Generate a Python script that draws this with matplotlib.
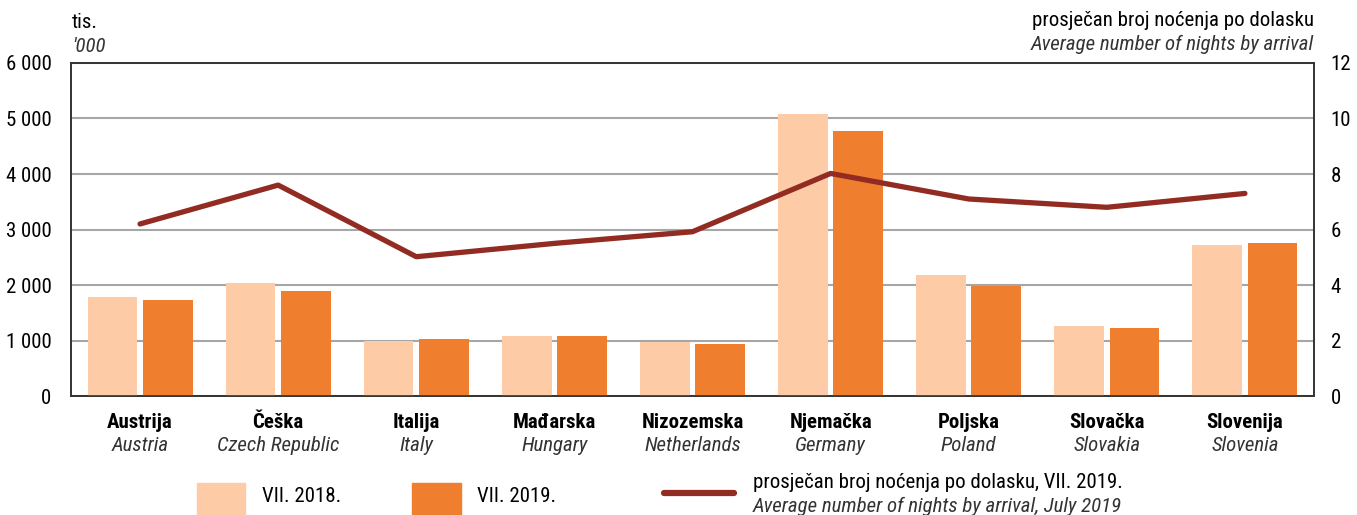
import matplotlib.pyplot as plt
import numpy as np
from matplotlib.patches import Rectangle
from matplotlib.lines import Line2D

plt.rcParams['font.family'] = ['Roboto Condensed', 'DejaVu Sans']

# data
countries_hr = ['Austrija', 'Češka', 'Italija', 'Mađarska', 'Nizozemska',
                'Njemačka', 'Poljska', 'Slovačka', 'Slovenija']
countries_en = ['Austria', 'Czech Republic', 'Italy', 'Hungary', 'Netherlands',
                'Germany', 'Poland', 'Slovakia', 'Slovenia']
nights_2018 = [1785, 2035, 995, 1075, 975, 5075, 2175, 1260, 2720]
nights_2019 = [1725, 1890, 1025, 1080, 935, 4780, 1980, 1230, 2760]
avg_nights_2019 = [6.2, 7.6, 5.02, 5.5, 5.92, 8.02, 7.1, 6.8, 7.3]

c_2018 = '#FDCBA6'
c_2019 = '#EF7F2F'
c_line = '#922B21'
fs = 15
it = dict(style='italic', color='#333333')

fig = plt.figure(figsize=(13.57, 5.15), dpi=100)
ax = fig.add_axes([0.0523, 0.231, 0.916, 0.6467])
ax2 = ax.twinx()

x = np.arange(len(countries_hr))
w = 0.36
ax.bar(x - 0.2, nights_2018, w, color=c_2018, zorder=3)
ax.bar(x + 0.2, nights_2019, w, color=c_2019, zorder=3)
ax2.plot(x, avg_nights_2019, color=c_line, lw=3.8, solid_capstyle='round', zorder=4)

ax.set_xlim(-0.5, 8.5)
ax.set_ylim(0, 6000)
ax2.set_ylim(0, 12)
ax.set_yticks(range(0, 6001, 1000))
ax.set_yticklabels(['0' if v == 0 else f'{v // 1000} 000' for v in range(0, 6001, 1000)])
ax2.set_yticks(range(0, 13, 2))
ax.yaxis.grid(True, color='#A6A6A6', lw=1.5, zorder=0)
ax.set_axisbelow(True)

for a in (ax, ax2):
    a.tick_params(length=0, labelsize=fs)
    for s in a.spines.values():
        s.set_color('#333333')
        s.set_linewidth(1.2)
ax.tick_params(axis='y', pad=14)
ax2.tick_params(axis='y', pad=12)
ax2.set_zorder(ax.get_zorder() + 1)
ax2.patch.set_visible(False)

ax.set_xticks(x)
ax.set_xticklabels([])
for i in x:
    ax.text(i, -0.05, countries_hr[i], transform=ax.get_xaxis_transform(),
            ha='center', va='top', fontsize=fs, fontweight='bold')
    ax.text(i, -0.12, countries_en[i], transform=ax.get_xaxis_transform(),
            ha='center', va='top', fontsize=fs, **it)

# axis titles
fig.text(0.053, 0.957, 'tis.', fontsize=fs, ha='left', va='center')
fig.text(0.053, 0.91, "'000", fontsize=fs, ha='left', va='center', **it)
fig.text(0.968, 0.961, 'prosječan broj noćenja po dolasku', fontsize=fs, ha='right', va='center')
fig.text(0.968, 0.914, 'Average number of nights by arrival', fontsize=fs,
         ha='right', va='center', **it)

# legend
fig.patches.append(Rectangle((0.1452, -0.01), 0.0354, 0.072, transform=fig.transFigure,
                             color=c_2018, figure=fig))
fig.text(0.193, 0.035, 'VII. 2018.', fontsize=fs, ha='left', va='center')
fig.patches.append(Rectangle((0.3036, -0.01), 0.0361, 0.072, transform=fig.transFigure,
                             color=c_2019, figure=fig))
fig.text(0.3515, 0.035, 'VII. 2019.', fontsize=fs, ha='left', va='center')
fig.lines.append(Line2D([0.489, 0.541], [0.043, 0.043], transform=fig.transFigure,
                        color=c_line, lw=4.5, solid_capstyle='round', figure=fig))
fig.text(0.555, 0.064, 'prosječan broj noćenja po dolasku, VII. 2019.', fontsize=fs,
         ha='left', va='center')
fig.text(0.555, 0.017, 'Average number of nights by arrival, July 2019', fontsize=fs,
         ha='left', va='center', **it)

fig.savefig('out.png', dpi=100)
